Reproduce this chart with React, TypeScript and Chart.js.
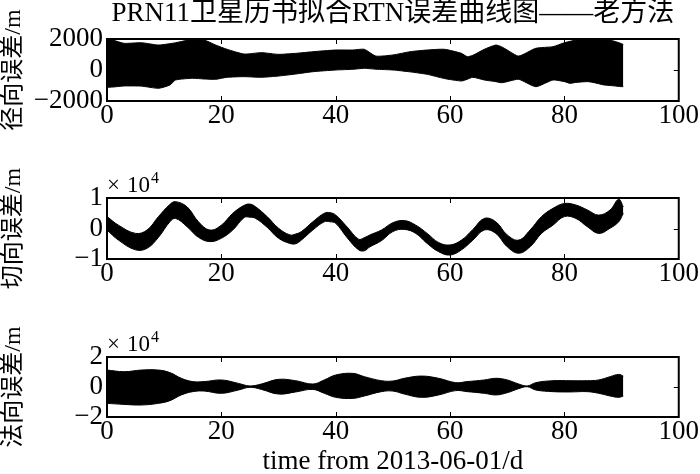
import React, { useEffect, useRef } from "react";
import { Chart, registerables } from "chart.js";

Chart.register(...registerables);

const TITLE = "PRN11卫星历书拟合RTN误差曲线图——老方法";
const X_LABEL = "time from 2013-06-01/d";
const X_TICKS = [0, 20, 40, 60, 80, 100];

// Radial error (m): upper / lower envelope of the dense oscillation
const R_DAYS = [0, 1, 3, 6, 9, 11, 12, 15, 17, 19, 21, 24, 27, 30, 33, 36, 40, 43, 45, 47, 50, 53, 56, 59, 62, 63, 64, 66, 68, 69, 70, 72, 75, 78, 80, 81, 82, 84, 85, 87, 88, 90, 90.3];
const R_UPPER = [1980, 1935, 1720, 1760, 1610, 1700, 1760, 1980, 1935, 1610, 1335, 1030, 1120, 1010, 1075, 1180, 1290, 1290, 1335, 900, 970, 1180, 1290, 1335, 1075, 860, 950, 1335, 1610, 1500, 1290, 900, 1400, 1505, 1760, 1850, 1935, 1960, 1980, 1960, 1935, 1700, 1650];
const R_LOWER = [-1120, -1100, -1030, -1040, -1180, -970, -645, -535, -580, -600, -470, -430, -470, -390, -260, -110, 0, 45, 110, 50, 0, -120, -280, -550, -710, -600, -470, -645, -750, -820, -750, -600, -1075, -645, -750, -860, -800, -750, -800, -970, -1000, -1075, -1075];
const R_TICKS = [-2000, 0, 2000];

// Along-track error (x10^4 m)
const T_DAYS = [0, 2, 5, 7, 9, 11, 12, 14, 16, 18, 20, 22, 24, 25, 26, 28, 30, 32, 33, 34, 36, 38, 39, 40, 42, 44, 45, 46, 48, 50, 52, 54, 56, 58, 60, 62, 64, 66, 68, 70, 72, 74, 76, 78, 80, 82, 84, 86, 88, 89.5, 90.3];
const T_UPPER = [0.39, 0.11, -0.16, -0.05, 0.39, 0.79, 0.88, 0.71, 0.22, -0.05, 0.11, 0.5, 0.76, 0.8, 0.71, 0.39, 0.01, -0.21, -0.18, -0.1, 0.22, 0.5, 0.52, 0.44, 0.05, -0.35, -0.3, -0.21, -0.05, 0.19, 0.26, 0.11, -0.16, -0.46, -0.54, -0.38, -0.03, 0.33, 0.22, -0.21, -0.38, -0.05, 0.39, 0.66, 0.82, 0.77, 0.61, 0.44, 0.61, 0.96, 0.71];
const T_LOWER = [-0.05, -0.38, -0.7, -0.65, -0.29, 0.22, 0.33, 0.06, -0.29, -0.43, -0.32, -0.05, 0.36, 0.37, 0.33, 0.04, -0.32, -0.49, -0.5, -0.38, -0.05, 0.22, 0.22, 0.17, -0.3, -0.7, -0.73, -0.6, -0.4, -0.1, -0.03, -0.16, -0.49, -0.76, -0.87, -0.7, -0.38, -0.05, -0.16, -0.6, -0.81, -0.6, -0.16, 0.11, 0.39, 0.33, 0.06, -0.16, 0.01, 0.22, 0.5];
const T_TICKS = [-1, 0, 1];

// Cross-track error (x10^4 m)
const N_DAYS = [0, 3, 6, 9, 11, 13, 15, 17, 20, 23, 25, 27, 30, 33, 36, 38, 40, 43, 45, 48, 50, 52, 55, 58, 61, 63, 66, 68, 70, 72, 73.5, 75, 78, 81, 84, 86, 88, 89.5, 90.3];
const N_UPPER = [1.13, 1.02, 1.13, 1.13, 0.96, 0.58, 0.36, 0.36, 0.47, 0.24, 0.07, 0.2, 0.51, 0.42, 0.2, 0.47, 0.8, 0.91, 0.69, 0.42, 0.4, 0.58, 0.73, 0.58, 0.29, 0.36, 0.47, 0.58, 0.47, 0.2, 0.07, 0.29, 0.42, 0.42, 0.42, 0.47, 0.69, 0.84, 0.73];
const N_LOWER = [-1.09, -1.16, -1.2, -1.09, -0.91, -0.53, -0.31, -0.27, -0.42, -0.2, -0.02, -0.16, -0.47, -0.33, -0.16, -0.42, -0.69, -0.76, -0.6, -0.31, -0.27, -0.47, -0.69, -0.53, -0.24, -0.31, -0.42, -0.53, -0.38, -0.11, 0.02, -0.2, -0.31, -0.33, -0.31, -0.42, -0.6, -0.69, -0.6];
const N_TICKS = [-2, 0, 2];

const SERIF = "'Liberation Serif', 'Noto Sans CJK SC', serif";
const W = 700;
const H = 474;

function fmt(v: number): string {
  return v < 0 ? "\u2212" + Math.abs(v) : String(v);
}

type PanelSpec = {
  days: number[];
  upper: number[];
  lower: number[];
  yTicks: number[];
  yTitle: string;
  padTop: number;
  padBottom: number;
  xHeight: number;
  tension: number;
  title?: string;
  xTitle?: string;
  exponent?: boolean;
};

function makeBoxPlugin(spec: PanelSpec) {
  return {
    id: "matlabBox",
    afterDraw(chart: any) {
      const { ctx, chartArea } = chart;
      const { left, right, top, bottom } = chartArea;
      const xs = chart.scales.x;
      const ys = chart.scales.y;
      ctx.save();
      ctx.strokeStyle = "#000";
      ctx.lineWidth = 1;
      const tl = 5;
      ctx.beginPath();
      xs.ticks.forEach((t: any) => {
        const px = Math.round(xs.getPixelForValue(t.value)) + 0.5;
        if (px <= left + 2 || px >= right - 2) return;
        ctx.moveTo(px, bottom);
        ctx.lineTo(px, bottom - tl);
        ctx.moveTo(px, top);
        ctx.lineTo(px, top + tl);
      });
      ys.ticks.forEach((t: any) => {
        const py = Math.round(ys.getPixelForValue(t.value)) + 0.5;
        if (py <= top + 2 || py >= bottom - 2) return;
        ctx.moveTo(left, py);
        ctx.lineTo(left + tl, py);
        ctx.moveTo(right, py);
        ctx.lineTo(right - tl, py);
      });
      ctx.stroke();
      ctx.lineWidth = 2;
      ctx.strokeRect(left, top, right - left, bottom - top);
      if (spec.exponent) {
        ctx.fillStyle = "#000";
        ctx.textAlign = "left";
        ctx.textBaseline = "alphabetic";
        ctx.font = `23px ${SERIF}`;
        const base = top - 6;
        ctx.fillText("\u00d7", left, base);
        const x2 = left + 20;
        ctx.fillText("10", x2, base);
        const w10 = ctx.measureText("10").width;
        ctx.font = `16px ${SERIF}`;
        ctx.fillText("4", x2 + w10 + 1, base - 9);
      }
      ctx.restore();
    },
  };
}

function makeConfig(spec: PanelSpec): any {
  const tickFont = { family: SERIF, size: 27, lineHeight: 1 };
  return {
    type: "line",
    data: {
      datasets: [
        {
          data: spec.days.map((d, i) => ({ x: d, y: spec.upper[i] })),
          borderColor: "#000",
          backgroundColor: "#000",
          borderWidth: 1,
          pointRadius: 0,
          fill: "+1",
          tension: spec.tension,
        },
        {
          data: spec.days.map((d, i) => ({ x: d, y: spec.lower[i] })),
          borderColor: "#000",
          backgroundColor: "#000",
          borderWidth: 1,
          pointRadius: 0,
          fill: false,
          tension: spec.tension,
        },
      ],
    },
    options: {
      responsive: false,
      animation: false,
      devicePixelRatio: 1,
      events: [],
      layout: { padding: { left: 0, right: 21, top: spec.padTop, bottom: spec.padBottom } },
      plugins: {
        legend: { display: false },
        tooltip: { enabled: false },
        title: spec.title
          ? {
              display: true,
              text: spec.title,
              fullSize: false,
              color: "#000",
              font: { family: SERIF, size: 27, lineHeight: 1, weight: "normal" },
              padding: { top: 0, bottom: 12 },
            }
          : { display: false },
      },
      scales: {
        x: {
          type: "linear",
          min: 0,
          max: 100,
          afterBuildTicks: (s: any) => {
            s.ticks = X_TICKS.map((v) => ({ value: v }));
          },
          afterFit: (s: any) => {
            s.height = spec.xHeight;
          },
          grid: { display: false, drawTicks: false },
          border: { display: false },
          ticks: {
            color: "#000",
            font: tickFont,
            padding: 1,
            maxRotation: 0,
            autoSkip: false,
            callback: (v: any) => fmt(Number(v)),
          },
          title: spec.xTitle
            ? {
                display: true,
                text: spec.xTitle,
                color: "#000",
                font: { family: SERIF, size: 27, lineHeight: 0.9 },
                padding: 0,
              }
            : { display: false },
        },
        y: {
          type: "linear",
          min: spec.yTicks[0],
          max: spec.yTicks[spec.yTicks.length - 1],
          afterBuildTicks: (s: any) => {
            s.ticks = spec.yTicks.map((v) => ({ value: v }));
          },
          afterFit: (s: any) => {
            s.width = 107;
          },
          grid: { display: false, drawTicks: false },
          border: { display: false },
          ticks: {
            color: "#000",
            font: tickFont,
            padding: 4,
            callback: (v: any) => fmt(Number(v)),
          },
          title: {
            display: true,
            text: spec.yTitle,
            color: "#000",
            font: { family: SERIF, size: 24, lineHeight: 1.15 },
            padding: 0,
          },
        },
      },
    },
    plugins: [makeBoxPlugin(spec)],
  };
}

const PANELS: PanelSpec[] = [
  {
    days: R_DAYS,
    upper: R_UPPER,
    lower: R_LOWER,
    yTicks: R_TICKS,
    yTitle: "径向误差/m",
    padTop: 0,
    padBottom: H - 101 - 30,
    xHeight: 30,
    tension: 0.2,
    title: TITLE,
  },
  {
    days: T_DAYS,
    upper: T_UPPER,
    lower: T_LOWER,
    yTicks: T_TICKS,
    yTitle: "切向误差/m",
    padTop: 198,
    padBottom: H - 259 - 30,
    xHeight: 30,
    tension: 0.4,
    exponent: true,
  },
  {
    days: N_DAYS,
    upper: N_UPPER,
    lower: N_LOWER,
    yTicks: N_TICKS,
    yTitle: "法向误差/m",
    padTop: 357,
    padBottom: 0,
    xHeight: H - 417,
    tension: 0.4,
    xTitle: X_LABEL,
    exponent: true,
  },
];

function Panel({ spec }: { spec: PanelSpec }) {
  const ref = useRef<HTMLCanvasElement | null>(null);
  useEffect(() => {
    if (!ref.current) return;
    const chart = new Chart(ref.current, makeConfig(spec));
    return () => chart.destroy();
  }, [spec]);
  return (
    <canvas
      ref={ref}
      width={W}
      height={H}
      style={{ position: "absolute", left: 0, top: 0, width: W, height: H }}
    />
  );
}

export default function App() {
  return (
    <div
      style={{
        position: "fixed",
        left: 0,
        top: 0,
        width: W,
        height: H,
        background: "#fff",
        overflow: "hidden",
      }}
    >
      {PANELS.map((p, i) => (
        <Panel key={i} spec={p} />
      ))}
    </div>
  );
}
